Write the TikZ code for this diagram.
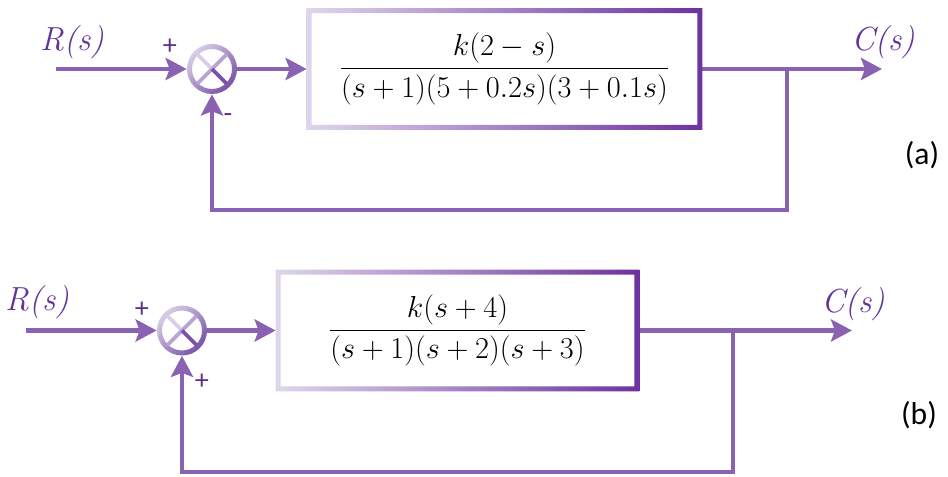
\documentclass[tikz,border=0pt]{standalone}
\usepackage{fontspec}
\usepackage{amsmath}
\usetikzlibrary{arrows.meta}
\newfontfamily\calfont{Carlito}
\definecolor{sigline}{RGB}{137,98,177}
\definecolor{labpurple}{RGB}{98,52,152}
\definecolor{signpurple}{RGB}{94,50,140}
\definecolor{boxlight}{RGB}{222,214,234}
\definecolor{boxdark}{RGB}{108,50,160}
\definecolor{ringlight}{RGB}{216,206,230}
\definecolor{ringmid}{RGB}{184,164,208}
\definecolor{ringdark}{RGB}{120,82,168}

\begin{document}
\begin{tikzpicture}[
  sig/.style={sigline,line width=2.6pt,-{Stealth[length=0.42cm,width=0.44cm,inset=0.08cm]}},
  blockbox/.style={rectangle,minimum height=2.42cm,inner sep=0pt,fill=white},
  sumnode/.style={circle,minimum size=1cm,inner sep=0pt,fill=white},
  siglabel/.style={labpurple,font=\fontsize{19}{21}\selectfont\itshape},
  signlabel/.style={signpurple,font=\calfont\fontsize{16}{18}\selectfont},
  tag/.style={font=\calfont\fontsize{18}{20}\selectfont}]
  \useasboundingbox (0,0) rectangle (18.96,9.52);
  % (a)
  \coordinate (Ra) at (1.12,8.14);
  \node[sumnode] (Sa) at (4.24,8.14) {};
  \node[blockbox,minimum width=7.9cm] (Ga) at (10.09,8.14)
    {\fontsize{17.6}{20}\selectfont$\dfrac{k(2-s)}{(s+1)(5+0.2s)(3+0.1s)}$};
  \coordinate (Ca) at (17.64,8.14);
  \coordinate (Ba) at (15.74,8.14);
  \coordinate (Da) at (15.74,5.32);
  \node[siglabel] (ra) at (1.44,8.68) {R(s)};
  \node[siglabel] (ca) at (17.66,8.68) {C(s)};
  \node[signlabel] (pa) at (3.40,8.58) {+};
  \node[signlabel] (ma) at (4.56,7.16) {-};
  \node[tag] (ta) at (18.44,6.42) {(a)};
  \draw[sig] (Ra) -- (Sa);
  \draw[sig] (Sa) -- (Ga);
  \draw[sig] (Ga) -- (Ca);
  \draw[sig] (Ba) -- (Da) -| (Sa.south);
  % (b)
  \coordinate (Rb) at (0.52,2.91);
  \node[sumnode] (Sb) at (3.64,2.91) {};
  \node[blockbox,minimum width=7.26cm] (Gb) at (9.15,2.91)
    {\fontsize{17.6}{20}\selectfont$\dfrac{k(s+4)}{(s+1)(s+2)(s+3)}$};
  \coordinate (Cb) at (17.04,2.91);
  \coordinate (Bb) at (14.66,2.91);
  \coordinate (Db) at (14.66,0.08);
  \node[siglabel] (rb) at (0.74,3.48) {R(s)};
  \node[siglabel] (cb) at (17.06,3.44) {C(s)};
  \node[signlabel] (pb) at (2.84,3.32) {+};
  \node[signlabel] (qb) at (4.04,1.88) {+};
  \node[tag] (tb) at (18.38,1.22) {(b)};
  \draw[sig] (Rb) -- (Sb);
  \draw[sig] (Sb) -- (Gb);
  \draw[sig] (Gb) -- (Cb);
  \draw[sig] (Bb) -- (Db) -| (Sb.south);
  % shaded frames and rings
  \foreach \g in {Ga,Gb}
    \shade[even odd rule,left color=boxlight,right color=boxdark]
      (\g.south west) rectangle (\g.north east)
      ([shift={(0.1,0.1)}]\g.south west) rectangle ([shift={(-0.1,-0.1)}]\g.north east);
  \foreach \s in {Sa,Sb} {
    \shade[even odd rule,top color=ringlight,bottom color=ringdark,shading angle=45]
      (\s.center) circle (0.5) (\s.center) circle (0.4);
    \draw[ringlight,line width=2.2pt] (\s.center) -- +(135:0.42);
    \draw[ringmid,line width=2.2pt] (\s.center) -- +(45:0.42);
    \draw[ringmid,line width=2.2pt] (\s.center) -- +(225:0.42);
    \draw[ringdark,line width=2.2pt] (\s.center) -- +(-45:0.42);
  }
\end{tikzpicture}
\end{document}
